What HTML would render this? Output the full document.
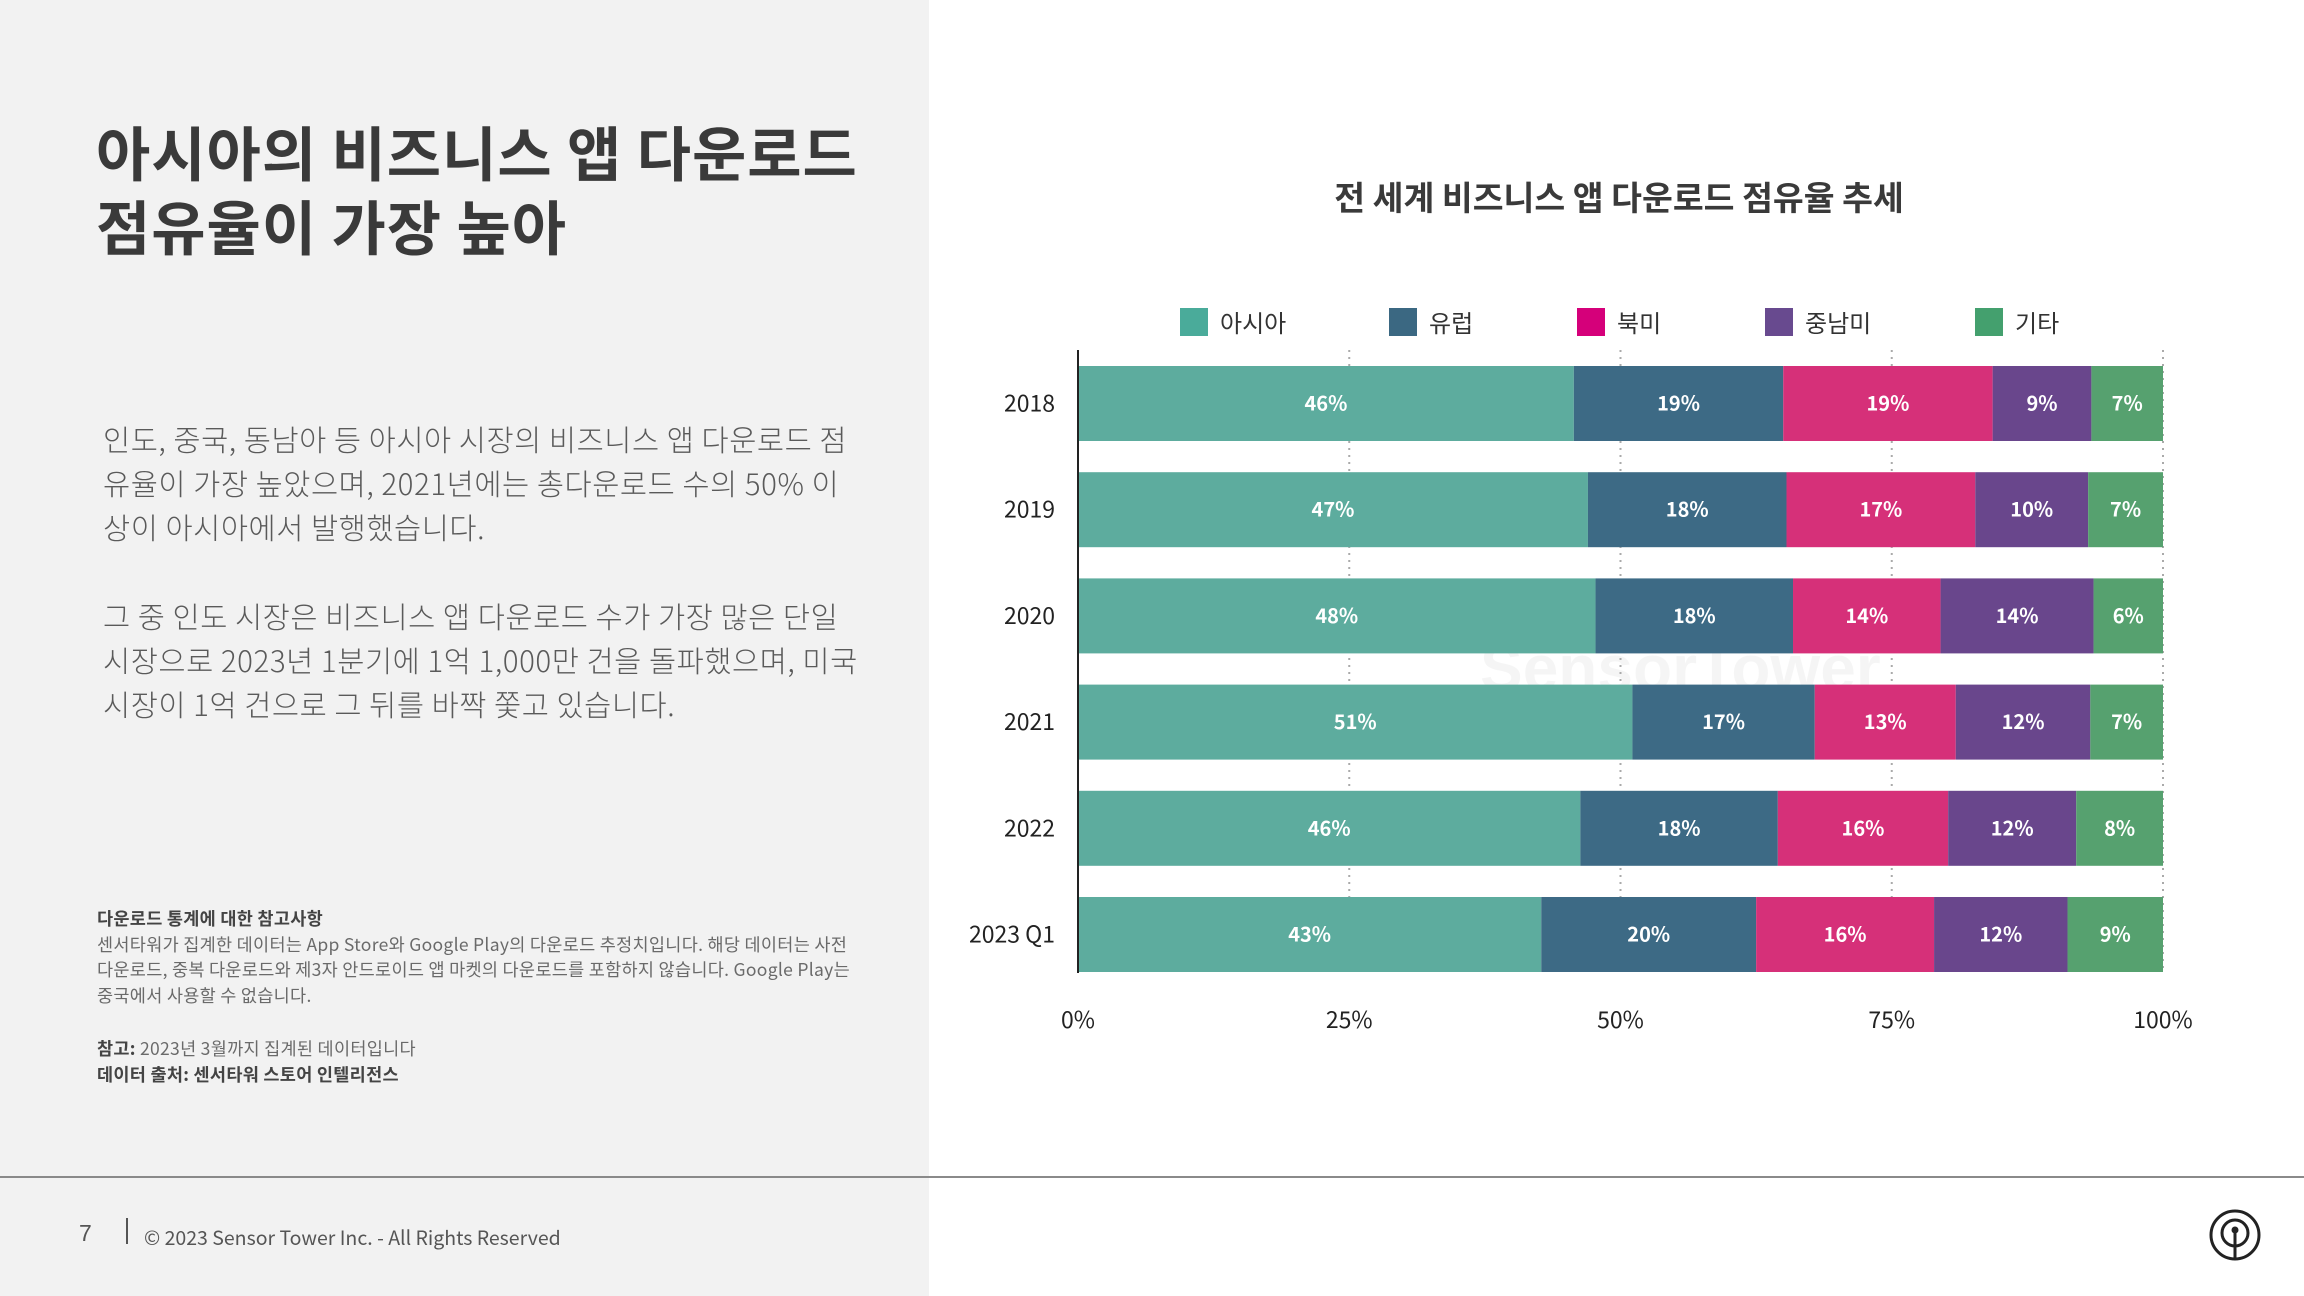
<!DOCTYPE html>
<html><head><meta charset="utf-8">
<style>
*{margin:0;padding:0;box-sizing:border-box}
body{width:2304px;height:1296px;position:relative;background:#fff;font-family:"Liberation Sans","Noto Sans CJK KR",sans-serif;overflow:hidden}
.left{position:absolute;left:0;top:0;width:929px;height:1296px;background:#f2f2f2}
.abs{position:absolute;white-space:nowrap}
h1{position:absolute;left:96px;top:114px;font-size:59px;line-height:74px;font-weight:700;color:#3a3a3a;font-family:"Noto Sans CJK KR",sans-serif;letter-spacing:1px}
.para{position:absolute;left:103px;font-size:29.5px;line-height:44px;color:#5a5a5a;font-weight:300;font-family:"Noto Sans CJK KR",sans-serif;letter-spacing:0.55px}
.note{position:absolute;left:97px;font-size:17.5px;line-height:25.5px;color:#6a6a6a;font-family:"Noto Sans CJK KR",sans-serif;letter-spacing:0.3px}
.note b{color:#444}
</style></head><body>
<div class="left"></div>
<h1>아시아의 비즈니스 앱 다운로드<br>점유율이 가장 높아</h1>
<div class="para" style="top:417px">인도, 중국, 동남아 등 아시아 시장의 비즈니스 앱 다운로드 점<br>유율이 가장 높았으며, 2021년에는 총다운로드 수의 50% 이<br>상이 아시아에서 발행했습니다.</div>
<div class="para" style="top:594px">그 중 인도 시장은 비즈니스 앱 다운로드 수가 가장 많은 단일<br>시장으로 2023년 1분기에 1억 1,000만 건을 돌파했으며, 미국<br>시장이 1억 건으로 그 뒤를 바짝 쫓고 있습니다.</div>
<div class="note" style="top:906px"><b>다운로드 통계에 대한 참고사항</b><br>센서타워가 집계한 데이터는 App Store와 Google Play의 다운로드 추정치입니다. 해당 데이터는 사전<br>다운로드, 중복 다운로드와 제3자 안드로이드 앱 마켓의 다운로드를 포함하지 않습니다. Google Play는<br>중국에서 사용할 수 없습니다.</div>
<div class="note" style="top:1036px"><b>참고:</b> 2023년 3월까지 집계된 데이터입니다<br><b>데이터 출처: 센서타워 스토어 인텔리전스</b></div>
<div class="abs" style="left:0;top:1176px;width:2304px;height:2px;background:#8a8a8a"></div>
<div class="abs" style="left:79px;top:1220px;font-size:23px;color:#555">7</div>
<div class="abs" style="left:126px;top:1218px;width:2px;height:26px;background:#555"></div>
<div class="abs" style="left:144px;top:1222px;font-size:19.5px;color:#555;font-family:'Noto Sans CJK KR',sans-serif">© 2023 Sensor Tower Inc. - All Rights Reserved</div>
<svg class="abs" style="left:2208px;top:1208px" width="54" height="54"><circle cx="27" cy="27" r="24" fill="none" stroke="#222" stroke-width="3"/><circle cx="27" cy="25" r="13" fill="none" stroke="#222" stroke-width="3"/><line x1="27" y1="22" x2="27" y2="50" stroke="#222" stroke-width="3"/><circle cx="27" cy="22" r="3.5" fill="#222"/></svg>

<svg id="chart" class="abs" style="left:0;top:0" width="2304" height="1296"></svg>
<script>
const categories=["2018","2019","2020","2021","2022","2023 Q1"];
const seriesNames=["아시아","유럽","북미","중남미","기타"];
const asia=[45.7,47.0,47.7,51.1,46.3,42.7];
const europe=[19.3,18.3,18.2,16.8,18.2,19.8];
const northAmerica=[19.3,17.4,13.6,13.0,15.7,16.4];
const latinAmerica=[9.1,10.4,14.1,12.4,11.8,12.3];
const other=[6.6,6.9,6.4,6.7,8.0,8.8];
const tickValues=[0,25,50,75,100];
const tickLabels=["0%","25%","50%","75%","100%"];
const series=[asia,europe,northAmerica,latinAmerica,other];
const colors=["#5dac9e","#3d6a85","#d63079","#69468c","#56a16f"];
const swatch=["#4aab9a","#3b6882","#d5007a","#684a8f","#44a06e"];
const legendX=[1180,1389,1577,1765,1975];
const ns="http://www.w3.org/2000/svg";
const svg=document.getElementById('chart');
const X0=1078,X1=2163,rowTop=366,rowStep=106.2,barH=75;
const xs=v=>X0+(X1-X0)*v/100;
const ys=i=>rowTop+i*rowStep;
function el(t,a,txt){const e=document.createElementNS(ns,t);for(const k in a)e.setAttribute(k,a[k]);if(txt!==undefined)e.textContent=txt;svg.appendChild(e);return e;}
const FF='"Liberation Sans","Noto Sans CJK KR",sans-serif';
const KF='"Noto Sans CJK KR",sans-serif';
let t=el('text',{x:1619,y:210,'text-anchor':'middle','font-size':33.5,'font-weight':700,fill:'#3a3a3a','font-family':KF},'전 세계 비즈니스 앱 다운로드 점유율 추세');


let wm=el('text',{x:1480,y:690,'font-size':64,'font-weight':700,fill:'#000','fill-opacity':0.04,'font-family':FF},'SensorTower');


seriesNames.forEach((n,i)=>{
  const r=el('rect',{x:legendX[i],y:308,width:28,height:28,fill:swatch[i]});
  
  
  const l=el('text',{x:legendX[i]+40,y:332,'font-size':24,fill:'#333','font-family':KF},n);
  
  
});
tickValues.forEach((v,i)=>{
  if(v>0){const g=el('line',{x1:xs(v),x2:xs(v),y1:350,y2:973,stroke:'#aaa','stroke-width':2,'stroke-dasharray':'2,5'});
  
  }
  const tl=el('text',{x:xs(v),y:1028,'text-anchor':'middle','font-size':23,fill:'#222','font-family':KF},tickLabels[i]);
  
  
});
categories.forEach((c,i)=>{
  const y=ys(i);let acc=0;
  series.forEach((s,k)=>{
    const r=el('rect',{x:xs(acc),y:y,width:xs(acc+s[i])-xs(acc),height:barH,fill:colors[k]});
    
    
    const lb=el('text',{x:(xs(acc)+xs(acc+s[i]))/2,y:y+barH/2+7,'text-anchor':'middle','font-size':20,'font-weight':700,fill:'#fff','font-family':KF},Math.round(s[i])+'%');
    
    
    acc+=s[i];
  });
  const yl=el('text',{x:1055,y:y+barH/2+8,'text-anchor':'end','font-size':23,fill:'#222','font-family':KF},c);
  
  
});
const ax=el('line',{x1:X0,x2:X0,y1:350,y2:973,stroke:'#222','stroke-width':2});


</script>
</body></html>
